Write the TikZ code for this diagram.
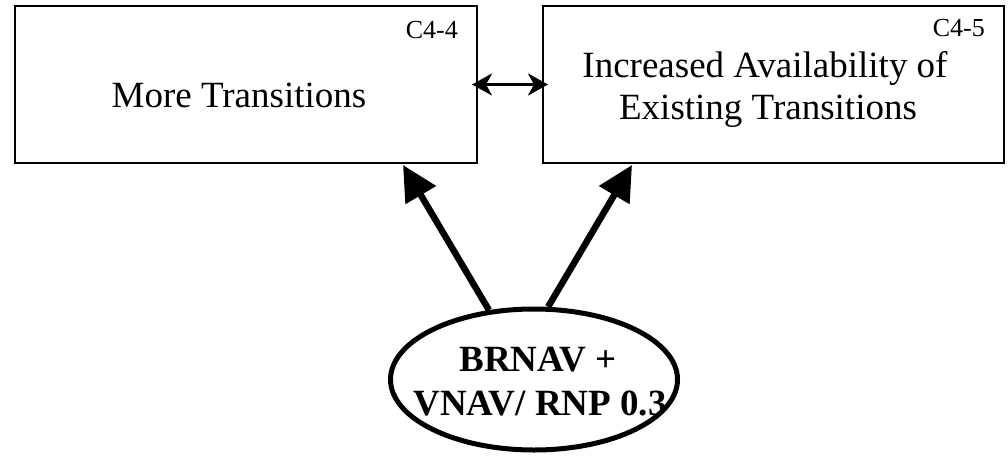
\documentclass[tikz,border=0pt]{standalone}
\usepackage{fontspec}
\setmainfont{Liberation Serif}
\usetikzlibrary{arrows.meta,shapes.geometric}

\begin{document}
\begin{tikzpicture}[x=1pt,y=1pt,
  box/.style={draw, line width=2pt, inner sep=0pt, minimum height=157pt},
  title/.style={font=\fontsize{37}{41}\selectfont, inner sep=0pt, anchor=base},
  tag/.style={font=\fontsize{26}{28}\selectfont, inner sep=0pt, anchor=base east},
  oval/.style={draw, ellipse, line width=5pt, inner sep=0pt,
               minimum width=287pt, minimum height=141pt},
  ovaltext/.style={font=\fontsize{37}{41}\selectfont\bfseries, inner sep=0pt, anchor=base},
  feed/.style={line width=6.5pt, -{Triangle[length=35pt,width=34pt]}},
  link/.style={line width=3pt, {Stealth[length=20pt,width=22pt,inset=6pt]}-{Stealth[length=20pt,width=22pt,inset=6pt]}}
]
\useasboundingbox (0,0) rectangle (1008,456);

% the two outcome boxes
\node[box, minimum width=462pt] (L) at (246,371.5) {};
\node[box, minimum width=461pt] (R) at (773.5,371.5) {};

\node[title] (Ltxt) at (239,348) {More Transitions};
\node[title] (Rtxt1) at (765,378) {Increased Availability of};
\node[title] (Rtxt2) at (768,337) {Existing Transitions};

\node[tag] (Ltag) at (458,417) {C4-4};
\node[tag] (Rtag) at (985,419) {C4-5};

% the enabling capability
\node[oval] (E) at (534,76.5) {};
\node[ovaltext] (Etxt1) at (538,85) {BRNAV +};
\node[ovaltext] (Etxt2) at (540,41) {VNAV/ RNP 0.3};

% connectors
\draw[link] ([xshift=-6pt]L.east) -- ([xshift=6pt]R.west);
\draw[feed] (E.123) -- ([xshift=157pt,yshift=-1pt]L.south);
\draw[feed] (E.79) -- ([xshift=-141.5pt,yshift=-1pt]R.south);
\end{tikzpicture}
\end{document}
